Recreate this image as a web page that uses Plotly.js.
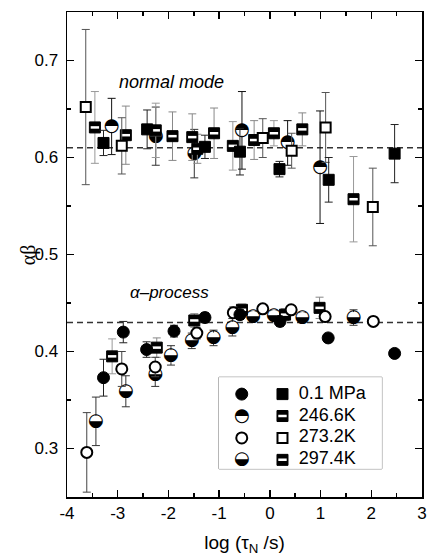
<!DOCTYPE html>
<html><head><meta charset="utf-8">
<script src="https://cdn.plot.ly/plotly-3.0.1.min.js"></script>
<style>html,body{margin:0;padding:0;background:#fff}</style>
</head><body><div id="chart" style="width:427px;height:559px"></div>
<script>
// ---------------- data ----------------
const seriesNames = ['0.1 MPa', '246.6K', '273.2K', '297.4K'];

// 0.1 MPa
const circX_01 = [-3.28, -2.89, -2.43, -1.89, -1.28, -0.59, 0.20, 1.15, 2.46];
const circY_01 = [0.373, 0.420, 0.402, 0.421, 0.435, 0.438, 0.431, 0.414, 0.398];
const circE_01 = [0.019, 0.011, 0.008, 0.006, 0.005, 0.005, 0.005, 0.004, 0.004];
const sqX_01 = [-3.28, -2.42, -1.28, -0.59, 0.19, 1.16, 2.46];
const sqY_01 = [0.615, 0.629, 0.611, 0.606, 0.588, 0.577, 0.604];
const sqE_01 = [0.013, 0.020, 0.012, 0.024, 0.008, 0.023, 0.030];

// 246.6K
const circX_246 = [-3.12, -0.55, 0.35, 0.99];
const circY_246 = [0.632, 0.628, 0.615, 0.590];
const circE_246 = [0.029, 0.040, 0.023, 0.058];
const sqX_246 = [-3.45, -2.25, -0.73, 0.08, 1.65, -3.11, -0.55];
const sqY_246 = [0.631, 0.628, 0.612, 0.625, 0.557, 0.395, 0.443];
const sqE_246 = [0.037, 0.028, 0.025, 0.013, 0.044, 0.018, 0.006];

// 273.2K
const circX_273 = [-3.61, -2.92, -2.26, -1.44, -0.72, -0.14, 0.42, 1.09, 2.04];
const circY_273 = [0.296, 0.382, 0.384, 0.419, 0.440, 0.444, 0.443, 0.436, 0.431];
const circE_273 = [0.041, 0.018, 0.010, 0.006, 0.006, 0.004, 0.004, 0.004, 0.004];
const sqX_273 = [-3.63, -2.92, -0.14, 0.43, 1.10, 2.03];
const sqY_273 = [0.652, 0.612, 0.620, 0.607, 0.631, 0.549];
const sqE_273 = [0.080, 0.029, 0.020, 0.018, 0.036, 0.040];

// 297.4K
const circX_297 = [-3.43, -2.84, -2.26, -1.95, -1.54, -1.11, -0.74, -0.33, 0.08, 0.64, 1.65, -2.25, -1.49];
const circY_297 = [0.328, 0.359, 0.376, 0.396, 0.411, 0.414, 0.425, 0.436, 0.437, 0.435, 0.435, 0.622, 0.604];
const circE_297 = [0.025, 0.016, 0.012, 0.010, 0.008, 0.008, 0.009, 0.005, 0.005, 0.005, 0.008, 0.030, 0.025];
const sqX_297 = [-2.84, -1.92, -1.53, -1.43, -1.10, -0.31, 0.64, -2.23, -1.49, 0.30, 0.98];
const sqY_297 = [0.623, 0.622, 0.621, 0.609, 0.625, 0.618, 0.629, 0.404, 0.432, 0.438, 0.445];
const sqE_297 = [0.030, 0.025, 0.024, 0.015, 0.026, 0.020, 0.017, 0.010, 0.007, 0.006, 0.011];

const refLevels = [0.61, 0.43];
const annotationTexts = ['normal mode', 'α–process'];
const yTitleText = 'αβ';
const xTickVals = [-4, -3, -2, -1, 0, 1, 2, 3];
const xTickText = ['-4', '-3', '-2', '-1', '0', '1', '2', '3'];
const yTickVals = [0.3, 0.4, 0.5, 0.6, 0.7];
const yTickText = ['0.3', '0.4', '0.5', '0.6', '0.7'];

// ---------------- styles ----------------
const GLYPH_UP = '\u25D3';   // upper half black
const GLYPH_LOW = '\u25D2';  // lower half black
const MS = 12;

function eb(arr, color) {
  return {type: 'data', array: arr, visible: true, color: color, thickness: 1, width: 4};
}
function filledCircle(x, y, e, ec, xa, ya) {
  return {x, y, xaxis: xa, yaxis: ya, type: 'scatter', mode: 'markers', hoverinfo: 'skip',
    error_y: e ? eb(e, ec) : undefined,
    marker: {symbol: 'circle', size: MS, color: 'black', line: {color: 'black', width: 1}}};
}
function openCircle(x, y, e, ec, xa, ya) {
  return {x, y, xaxis: xa, yaxis: ya, type: 'scatter', mode: 'markers', hoverinfo: 'skip',
    error_y: e ? eb(e, ec) : undefined,
    marker: {symbol: 'circle', size: MS - 1, color: 'white', line: {color: 'black', width: 2}}};
}
function filledSquare(x, y, e, ec, xa, ya) {
  return {x, y, xaxis: xa, yaxis: ya, type: 'scatter', mode: 'markers', hoverinfo: 'skip',
    error_y: e ? eb(e, ec) : undefined,
    marker: {symbol: 'square', size: MS - 1, color: 'black', line: {color: 'black', width: 1}}};
}
function openSquare(x, y, e, ec, xa, ya) {
  return {x, y, xaxis: xa, yaxis: ya, type: 'scatter', mode: 'markers', hoverinfo: 'skip',
    error_y: e ? eb(e, ec) : undefined,
    marker: {symbol: 'square', size: MS - 2, color: 'white', line: {color: 'black', width: 2}}};
}
function barSquare(x, y, e, ec, xa, ya) {
  return [filledSquare(x, y, e, ec, xa, ya),
    {x, y, xaxis: xa, yaxis: ya, type: 'scatter', mode: 'markers', hoverinfo: 'skip',
      marker: {symbol: 'line-ew', size: 6, color: 'white', line: {color: 'white', width: 2.5}}}];
}
function halfCircle(x, y, e, ec, glyph, xa, ya) {
  return [
    {x, y, xaxis: xa, yaxis: ya, type: 'scatter', mode: 'markers', hoverinfo: 'skip',
      error_y: e ? eb(e, ec) : undefined,
      marker: {symbol: 'circle', size: MS - 1, color: 'white', line: {width: 0}}},
    {x, y, xaxis: xa, yaxis: ya, type: 'scatter', mode: 'text', hoverinfo: 'skip',
      text: x.map(() => glyph), textposition: 'middle center',
      textfont: {family: 'DejaVu Sans', size: 18, color: 'black'}}
  ];
}

let traces = [];
// data traces
traces.push(...halfCircle(circX_297, circY_297, circE_297, '#333', GLYPH_LOW, 'x', 'y'));
traces.push(...barSquare(sqX_297, sqY_297, sqE_297, '#888', 'x', 'y'));
traces.push(...halfCircle(circX_246, circY_246, circE_246, '#111', GLYPH_UP, 'x', 'y'));
traces.push(...barSquare(sqX_246, sqY_246, sqE_246, '#999', 'x', 'y'));
traces.push(openCircle(circX_273, circY_273, circE_273, '#444', 'x', 'y'));
traces.push(openSquare(sqX_273, sqY_273, sqE_273, '#555', 'x', 'y'));
traces.push(filledCircle(circX_01, circY_01, circE_01, '#222', 'x', 'y'));
traces.push(filledSquare(sqX_01, sqY_01, sqE_01, '#222', 'x', 'y'));

// legend (drawn on its own hidden axes, rows = series names)
const LC = 0.14, LS = 0.39, LT = 0.49;
traces.push(filledCircle([LC], [seriesNames[0]], null, null, 'x2', 'y2'));
traces.push(filledSquare([LS], [seriesNames[0]], null, null, 'x2', 'y2'));
traces.push(...halfCircle([LC], [seriesNames[1]], null, null, GLYPH_UP, 'x2', 'y2'));
traces.push(...barSquare([LS], [seriesNames[1]], null, null, 'x2', 'y2'));
traces.push(openCircle([LC], [seriesNames[2]], null, null, 'x2', 'y2'));
traces.push(openSquare([LS], [seriesNames[2]], null, null, 'x2', 'y2'));
traces.push(...halfCircle([LC], [seriesNames[3]], null, null, GLYPH_LOW, 'x2', 'y2'));
traces.push(...barSquare([LS], [seriesNames[3]], null, null, 'x2', 'y2'));
traces.push({x: seriesNames.map(() => LT), y: seriesNames, xaxis: 'x2', yaxis: 'y2',
  type: 'scatter', mode: 'text', text: seriesNames, textposition: 'middle right', hoverinfo: 'skip',
  textfont: {family: 'Liberation Sans, Arial, sans-serif', size: 18, color: 'black'}});

const shapes = refLevels.map(v => ({
  type: 'line', xref: 'paper', x0: 0, x1: 1, yref: 'y', y0: v, y1: v, layer: 'below',
  line: {color: '#333', width: 1.5, dash: '6px,4px'}
}));
shapes.push({type: 'rect', xref: 'paper', yref: 'paper', x0: 0.428, x1: 0.887, y0: 0.058, y1: 0.247,
  layer: 'below', fillcolor: 'white', line: {color: '#777', width: 1}});

const layout = {
  width: 427, height: 559,
  margin: {l: 67, r: 5, t: 12, b: 62},
  paper_bgcolor: 'white', plot_bgcolor: 'white',
  showlegend: false,
  font: {family: 'Liberation Sans, Arial, sans-serif', color: 'black'},
  xaxis: {
    range: [-4, 3], tickvals: xTickVals, ticktext: xTickText,
    ticks: 'inside', ticklen: 7, tickwidth: 1.5, tickcolor: 'black',
    minor: {dtick: 0.5, tick0: 0, ticks: 'inside', ticklen: 4, tickwidth: 1.5, tickcolor: 'black'},
    showline: true, linewidth: 1.5, linecolor: 'black', mirror: 'allticks',
    showgrid: false, zeroline: false,
    tickfont: {size: 17},
    title: {text: 'log (τ<sub>N</sub> /s)', font: {size: 19}, standoff: 14}
  },
  yaxis: {
    range: [0.25, 0.75], tickvals: yTickVals, ticktext: yTickText,
    ticks: 'inside', ticklen: 7, tickwidth: 1.5, tickcolor: 'black',
    minor: {dtick: 0.05, tick0: 0, ticks: 'inside', ticklen: 4, tickwidth: 1.5, tickcolor: 'black'},
    showline: true, linewidth: 1.5, linecolor: 'black', mirror: 'allticks',
    showgrid: false, zeroline: false,
    tickfont: {size: 17}, ticklabelstandoff: 4
  },
  xaxis2: {domain: [0.428, 0.887], range: [0, 1], visible: false, anchor: 'y2', fixedrange: true},
  yaxis2: {domain: [0.058, 0.247], type: 'category', categoryorder: 'array', categoryarray: seriesNames,
    range: [3.41, -0.77], visible: false, anchor: 'x2', fixedrange: true},
  shapes: shapes,
  annotations: [
    {x: -1.94, y: 0.678, xref: 'x', yref: 'y', text: '<i>' + annotationTexts[0] + '</i>', showarrow: false,
      font: {size: 18, family: 'Liberation Sans, Arial, sans-serif'},
      xanchor: 'center', yanchor: 'middle'},
    {x: -1.97, y: 0.461, xref: 'x', yref: 'y', text: '<i>' + annotationTexts[1] + '</i>', showarrow: false,
      font: {size: 17, family: 'Liberation Sans, Arial, sans-serif'},
      xanchor: 'center', yanchor: 'middle'},
    {x: -0.108, y: 0.5, xref: 'paper', yref: 'paper', text: yTitleText, showarrow: false, textangle: -90,
      font: {size: 20, family: 'Liberation Serif, serif'}, xanchor: 'center', yanchor: 'middle'}
  ]
};

Plotly.newPlot('chart', traces, layout, {staticPlot: true, displayModeBar: false});
</script>
</body></html>
